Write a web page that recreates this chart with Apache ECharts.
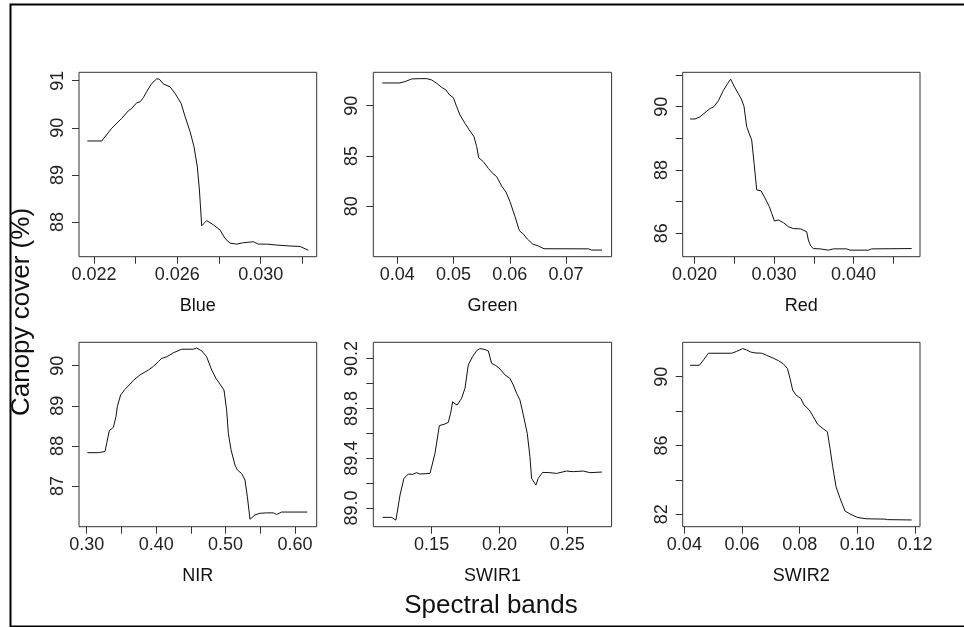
<!DOCTYPE html>
<html>
<head>
<meta charset="utf-8">
<script src="https://cdn.jsdelivr.net/npm/echarts@6/dist/echarts.min.js"></script>
<style>html,body{margin:0;padding:0;background:#fff;}#c{width:964px;height:627px;}</style>
</head>
<body>
<div id="c"></div>
<script>
// ---- data ----
const blueX = [0.02168,0.02237,0.02285,0.02333,0.02365,0.02381,0.02405,0.02421,0.02437,0.02453,0.02477,0.02501,0.02514,0.02533,0.02565,0.02589,0.02618,0.02637,0.02661,0.02680,0.02696,0.02706,0.02717,0.02728,0.02741,0.02773,0.02805,0.02829,0.02853,0.02885,0.02917,0.02965,0.02989,0.03029,0.03077,0.03141,0.03189,0.03229];
const blueY = [89.72,89.72,89.99,90.20,90.36,90.41,90.53,90.55,90.64,90.77,90.94,91.04,91.03,90.93,90.87,90.73,90.52,90.24,89.92,89.60,89.17,88.68,87.92,87.97,88.03,87.94,87.83,87.65,87.55,87.53,87.56,87.58,87.53,87.53,87.51,87.49,87.48,87.40];

const greenX = [0.03733,0.04047,0.04154,0.04255,0.04403,0.04522,0.04611,0.04700,0.04788,0.04865,0.04925,0.04996,0.05055,0.05114,0.05203,0.05292,0.05363,0.05411,0.05446,0.05529,0.05618,0.05695,0.05766,0.05855,0.05932,0.06004,0.06093,0.06170,0.06241,0.06312,0.06407,0.06507,0.06608,0.07400,0.07450,0.07640];
const greenY = [92.25,92.25,92.42,92.65,92.68,92.68,92.55,92.22,91.82,91.56,91.09,90.79,89.90,89.07,88.24,87.48,86.92,85.93,84.83,84.44,83.77,83.28,82.95,82.02,81.42,80.46,78.97,77.58,77.25,76.75,76.26,76.06,75.79,75.78,75.66,75.66];

const redX = [0.01946,0.02008,0.02071,0.02147,0.02197,0.02247,0.02302,0.02364,0.02415,0.02456,0.02498,0.02561,0.02595,0.02624,0.02657,0.02687,0.02720,0.02750,0.02783,0.02838,0.02888,0.02942,0.02972,0.03005,0.03055,0.03118,0.03181,0.03244,0.03336,0.03411,0.03432,0.03461,0.03495,0.03579,0.03683,0.03746,0.03914,0.03956,0.04186,0.04228,0.04730];
const redY = [89.61,89.61,89.68,89.84,89.94,90.00,90.19,90.51,90.72,90.87,90.65,90.37,90.21,90.00,89.37,89.16,88.95,88.21,87.37,87.34,87.11,86.84,86.63,86.39,86.42,86.34,86.21,86.15,86.14,86.05,85.79,85.60,85.52,85.51,85.47,85.51,85.51,85.47,85.47,85.51,85.52];

const nirX = [0.3010,0.3168,0.3264,0.3288,0.3326,0.3384,0.3422,0.3441,0.3489,0.3552,0.3614,0.3672,0.3768,0.3888,0.3960,0.4032,0.4080,0.4152,0.4248,0.4368,0.4536,0.4583,0.4655,0.4727,0.4800,0.4862,0.4919,0.4977,0.5015,0.5039,0.5078,0.5135,0.5169,0.5231,0.5279,0.5313,0.5351,0.5423,0.5495,0.5591,0.5687,0.5735,0.5807,0.5927,0.6177];
const nirY = [87.83,87.83,87.86,88.06,88.38,88.46,88.73,88.98,89.27,89.41,89.52,89.63,89.77,89.89,89.98,90.10,90.18,90.22,90.32,90.41,90.41,90.44,90.37,90.22,89.89,89.68,89.54,89.39,88.89,88.31,87.90,87.52,87.40,87.31,87.15,86.73,86.17,86.28,86.32,86.33,86.33,86.29,86.35,86.35,86.35];

const swir1X = [0.1139,0.1205,0.1237,0.1267,0.1296,0.1328,0.1360,0.1389,0.1414,0.1488,0.1525,0.1557,0.1591,0.1623,0.1640,0.1655,0.1672,0.1689,0.1721,0.1746,0.1770,0.1802,0.1832,0.1856,0.1886,0.1918,0.1942,0.1974,0.2004,0.2041,0.2077,0.2102,0.2127,0.2151,0.2176,0.2205,0.2225,0.2237,0.2269,0.2286,0.2318,0.2372,0.2421,0.2495,0.2544,0.2618,0.2667,0.2756];
const swir1Y = [88.925,88.925,88.903,89.104,89.238,89.273,89.270,89.284,89.273,89.278,89.439,89.662,89.672,89.688,89.761,89.854,89.836,89.828,89.881,89.962,90.149,90.216,90.264,90.280,90.275,90.262,90.162,90.144,90.117,90.069,90.042,89.988,89.921,89.868,89.747,89.600,89.412,89.238,89.185,89.238,89.286,89.284,89.278,89.297,89.292,89.297,89.284,89.289];

const swir2X = [0.04197,0.04520,0.04682,0.04832,0.05237,0.05642,0.05815,0.06023,0.06162,0.06301,0.06451,0.06682,0.06855,0.07064,0.07260,0.07434,0.07572,0.07665,0.07757,0.07873,0.08035,0.08150,0.08335,0.08474,0.08613,0.08786,0.08960,0.09052,0.09145,0.09260,0.09399,0.09572,0.09746,0.10000,0.10301,0.10960,0.11040,0.11884];
const swir2Y = [90.66,90.66,91.01,91.36,91.36,91.36,91.47,91.63,91.55,91.43,91.38,91.36,91.24,91.09,90.93,90.74,90.48,89.90,89.22,88.93,88.74,88.35,88.06,87.67,87.25,87.00,86.80,85.83,84.77,83.60,82.93,82.19,82.02,81.82,81.74,81.72,81.69,81.67];

// ---- axis ticks and tick labels ----
const bandNames = ['Blue','Green','Red','NIR','SWIR1','SWIR2'];
const xTicks = [
  [0.022,0.024,0.026,0.028,0.030,0.032],
  [0.04,0.05,0.06,0.07],
  [0.020,0.025,0.030,0.035,0.040,0.045],
  [0.30,0.35,0.40,0.45,0.50,0.55,0.60],
  [0.15,0.20,0.25],
  [0.04,0.06,0.08,0.10,0.12]
];
const xLabels = [
  [0.022,0.026,0.030],
  [0.04,0.05,0.06,0.07],
  [0.020,0.030,0.040],
  [0.30,0.40,0.50,0.60],
  [0.15,0.20,0.25],
  [0.04,0.06,0.08,0.10,0.12]
];
const xDecimals = [3,2,3,2,2,2];
const yTicks = [
  [88,89,90,91],
  [80,85,90],
  [86,87,88,89,90,91],
  [87,88,89,90],
  [89.0,89.2,89.4,89.6,89.8,90.0,90.2],
  [82,84,86,88,90]
];
const yLabels = [
  [88,89,90,91],
  [80,85,90],
  [86,88,90],
  [87,88,89,90],
  [89.0,89.4,89.8,90.2],
  [82,86,90]
];
const yDecimals = [0,0,0,0,1,0];
const xRange = [[0.02128,0.03269],[0.03573,0.0781],[0.01853,0.04835],[0.28896,0.6311],[0.1070,0.2827],[0.03942,0.12173]];
const yRange = [[87.263,91.178],[75.0,93.31],[85.263,91.084],[85.985,90.582],[88.850,90.331],[81.279,91.996]];

const seriesX = [blueX, greenX, redX, nirX, swir1X, swir2X];
const seriesY = [blueY, greenY, redY, nirY, swir1Y, swir2Y];

// ---- layout ----
const FONT = 'Liberation Sans, Arial, sans-serif';
const lefts = [79, 373.3, 682.7];
const widths = [237.7, 238.3, 237.3];
const tops = [72.3, 342.3];
const H = 184.4;

const grids = [], xAxes = [], yAxes = [], series = [];
for (let i = 0; i < 6; i++) {
  const col = i % 3, row = Math.floor(i / 3);
  grids.push({
    left: lefts[col], top: tops[row], width: widths[col], height: H,
    show: true, borderColor: '#333', borderWidth: 1, backgroundColor: 'transparent'
  });
  const xd = xDecimals[i], yd = yDecimals[i];
  xAxes.push({
    type: 'value', gridIndex: i, min: xRange[i][0], max: xRange[i][1],
    name: bandNames[i], nameLocation: 'middle', nameGap: 40,
    nameTextStyle: { fontFamily: FONT, fontSize: 18, color: '#111' },
    axisLine: { show: false },
    axisTick: { show: true, inside: false, length: 7, lineStyle: { color: '#333', width: 1 }, customValues: xTicks[i] },
    axisLabel: { show: true, margin: 9, fontFamily: FONT, fontSize: 18, color: '#222',
      customValues: xLabels[i], formatter: v => Number(v).toFixed(xd) },
    splitLine: { show: false }
  });
  yAxes.push({
    type: 'value', gridIndex: i, min: yRange[i][0], max: yRange[i][1],
    axisLine: { show: false },
    axisTick: { show: true, inside: false, length: 7, lineStyle: { color: '#333', width: 1 }, customValues: yTicks[i] },
    axisLabel: { show: true, rotate: 90, margin: 12, fontFamily: FONT, fontSize: 18, color: '#222',
      customValues: yLabels[i], formatter: v => Number(v).toFixed(yd) },
    splitLine: { show: false }
  });
  series.push({
    type: 'line', xAxisIndex: i, yAxisIndex: i, showSymbol: false, symbol: 'none',
    lineStyle: { color: '#111', width: 1 }, animation: false, clip: true,
    data: seriesX[i].map((x, k) => [x, seriesY[i][k]])
  });
}

const chart = echarts.init(document.getElementById('c'), null, { renderer: 'canvas' });
chart.setOption({
  backgroundColor: '#fff',
  animation: false,
  grid: grids, xAxis: xAxes, yAxis: yAxes, series: series,
  graphic: [
    { type: 'rect', left: 8, top: 2, shape: { width: 980, height: 622 },
      style: { fill: 'none', stroke: '#000', lineWidth: 2 }, silent: true },
    { type: 'text', x: 22, y: 312, rotation: Math.PI / 2,
      style: { text: 'Canopy cover (%)', font: '26px ' + FONT, fill: '#111', align: 'center', verticalAlign: 'middle' } },
    { type: 'text', x: 491, y: 606,
      style: { text: 'Spectral bands', font: '26px ' + FONT, fill: '#111', align: 'center', verticalAlign: 'middle' } }
  ]
});
</script>
</body>
</html>
